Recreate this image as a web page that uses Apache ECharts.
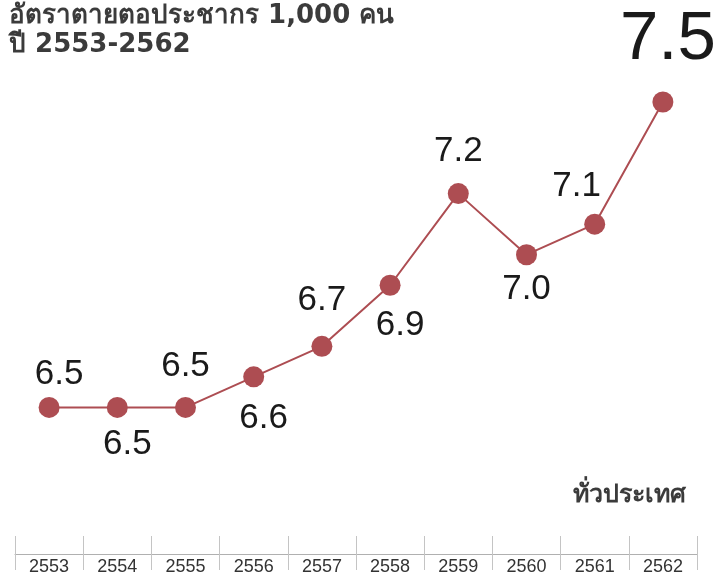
<!DOCTYPE html>
<html>
<head>
<meta charset="utf-8">
<script src="https://cdn.jsdelivr.net/npm/echarts@6/dist/echarts.min.js"></script>
<style>
  html, body { margin: 0; padding: 0; background: #fff; }
  #chart { width: 720px; height: 579px; }
</style>
</head>
<body>
<div id="chart"></div>
<script>
// ข้อมูล
const years = ['2553', '2554', '2555', '2556', '2557', '2558', '2559', '2560', '2561', '2562']
const deathRate = [6.5, 6.5, 6.5, 6.6, 6.7, 6.9, 7.2, 7.0, 7.1, 7.5]
const titleLines = ['อัตราตายตอประชากร 1,000 คน', 'ปี 2553-2562']
const seriesName = 'ทั่วประเทศ'

// ตำแหน่งป้ายค่า (dx, dy จากจุด)
const labelShift = [
  [10, -33], [10, 37], [0, -41], [10, 41], [0, -46],
  [10, 40], [0, -42], [0, 35], [-18, -38], [5, -62]
]

const red = '#ad4d52'
const chart = echarts.init(document.getElementById('chart'))

const option = {
  animation: false,
  grid: { left: 15, right: 23, top: 102, bottom: 25 },
  title: {
    text: titleLines.join('\n'),
    left: 4,
    top: -3,
    textStyle: {
      fontSize: 26,
      fontWeight: 'bold',
      color: '#3b3b3b',
      lineHeight: 29,
      fontFamily: 'DejaVu Sans, sans-serif'
    }
  },
  graphic: [
    {
      type: 'text',
      right: 34,
      top: 483,
      style: {
        text: seriesName,
        fontSize: 25,
        fontWeight: 'bold',
        fill: '#3b3b3b',
        fontFamily: 'DejaVu Sans, sans-serif'
      }
    }
  ],
  xAxis: [
    {
      type: 'category',
      data: years,
      boundaryGap: true,
      axisLine: { lineStyle: { color: '#b0b0b0', width: 1 } },
      axisTick: { show: true, length: 16, lineStyle: { color: '#c4c4c4' } },
      axisLabel: {
        color: '#333',
        fontSize: 18,
        margin: 4,
        fontFamily: 'Liberation Sans, sans-serif'
      }
    },
    {
      type: 'category',
      data: years,
      position: 'bottom',
      boundaryGap: true,
      axisLine: { show: false },
      axisTick: { show: true, inside: true, length: 18, lineStyle: { color: '#c4c4c4' } },
      axisLabel: { show: false }
    }
  ],
  yAxis: {
    type: 'value',
    min: 6.02,
    max: 7.5,
    show: false
  },
  series: [
    {
      name: seriesName,
      type: 'line',
      xAxisIndex: 0,
      data: deathRate.map((v, i) => {
        const last = i === deathRate.length - 1
        return {
          value: v,
          label: {
            offset: labelShift[i],
            fontSize: last ? 69 : 35,
            formatter: (p) => p.value.toFixed(1)
          }
        }
      }),
      symbol: 'circle',
      symbolSize: 21,
      itemStyle: { color: red },
      lineStyle: { color: red, width: 2 },
      label: {
        show: true,
        position: 'inside',
        color: '#1a1a1a',
        fontFamily: 'Liberation Sans, sans-serif'
      }
    }
  ]
}

chart.setOption(option)
</script>
</body>
</html>
